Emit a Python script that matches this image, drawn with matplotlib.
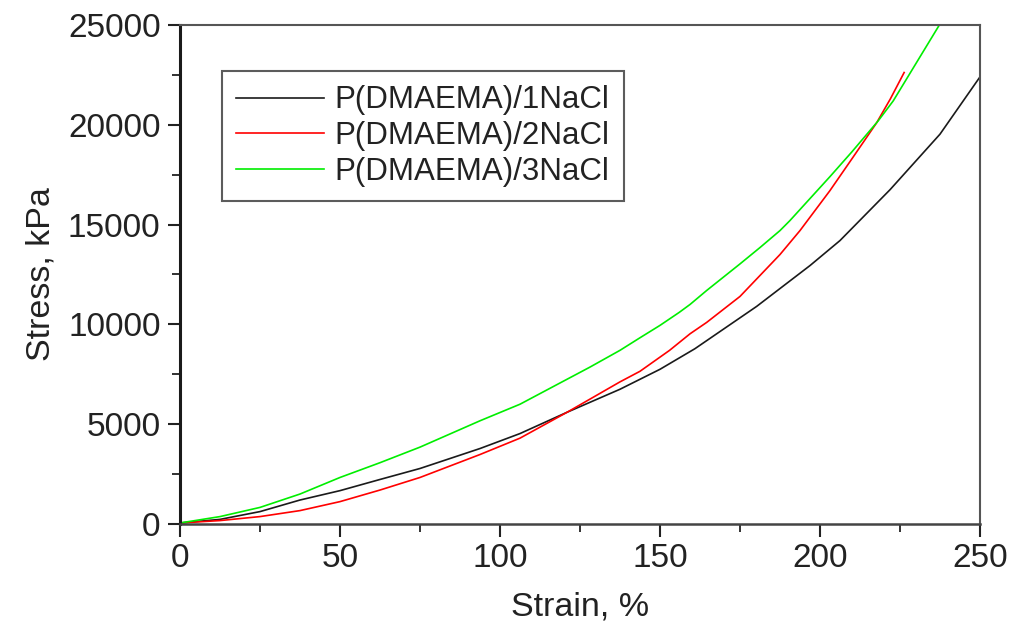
import matplotlib.pyplot as plt

plt.rcParams['font.family'] = ['Liberation Sans', 'DejaVu Sans']

# stress-strain curves, strain in %, stress in kPa
strain_1 = [0, 12.5, 25, 37.5, 50, 62.5, 75, 93.75, 106.25, 121, 137.5, 143.75,
            150, 160.9, 180.2, 196.9, 206.25, 221.9, 237.5, 250]
stress_1 = [50, 230, 620, 1200, 1670, 2230, 2780, 3780, 4530, 5600, 6750, 7250,
            7750, 8780, 10900, 12950, 14200, 16750, 19530, 22400]

strain_2 = [0, 12.5, 25, 37.5, 50, 62.5, 75, 93.75, 106.25, 121, 137.5, 143.75,
            153, 159.4, 164.6, 175, 181.25, 187.5, 193.75, 203.1, 210, 217.7,
            222, 226.3]
stress_2 = [50, 170, 370, 670, 1120, 1700, 2330, 3480, 4300, 5600, 7120, 7650,
            8700, 9530, 10100, 11400, 12450, 13500, 14700, 16700, 18300, 20100,
            21300, 22620]

strain_3 = [0, 12.5, 25, 37.5, 50, 62.5, 75, 93.75, 106.25, 118, 128, 137.5,
            143.75, 150, 156, 159.4, 164.6, 175, 181.25, 187.5, 190.6, 203.1,
            210, 218.2, 222.9, 237.3]
stress_3 = [50, 370, 830, 1500, 2330, 3070, 3850, 5170, 6000, 7000, 7850, 8700,
            9330, 9950, 10600, 11000, 11700, 13030, 13850, 14700, 15200, 17400,
            18650, 20200, 21200, 25000]

labels = ['P(DMAEMA)/1NaCl', 'P(DMAEMA)/2NaCl', 'P(DMAEMA)/3NaCl']
colors = ['#1a1a1a', '#ff0000', '#00ee00']

fig = plt.figure(figsize=(10.13, 6.3), dpi=100)
ax = fig.add_axes([0.1777, 0.1683, 0.7897, 0.792])

for x, y, lab, c in zip([strain_1, strain_2, strain_3],
                        [stress_1, stress_2, stress_3], labels, colors):
    ax.plot(x, y, color=c, lw=1.2, label=lab)

ax.set_xlim(0, 250)
ax.set_ylim(0, 25000)
ax.set_xticks(range(0, 251, 50))
ax.set_xticks(range(25, 251, 50), minor=True)
ax.set_yticks(range(0, 25001, 5000))
ax.set_yticks(range(2500, 25001, 5000), minor=True)

ax.tick_params(which='major', direction='out', length=9, width=1.5,
               labelsize=24, pad=5, colors='#222222')
ax.tick_params(which='minor', direction='out', length=6, width=1.3,
               colors='#222222')

ax.spines['left'].set_linewidth(2.2)
ax.spines['left'].set_color('#1a1a1a')
ax.spines['bottom'].set_linewidth(1.8)
ax.spines['bottom'].set_color('#444444')
for s in ['top', 'right']:
    ax.spines[s].set_linewidth(1.5)
    ax.spines[s].set_color('#555555')

ax.set_xlabel('Strain, %', fontsize=24.5, color='#222222', labelpad=12)
ax.set_ylabel('Stress, kPa', fontsize=24.5, color='#222222', labelpad=8)

leg = ax.legend(loc='upper left', bbox_to_anchor=(0.0525, 0.907), fontsize=22.5,
                frameon=True, fancybox=False, handlelength=2.8,
                handletextpad=0.35, borderpad=0.45, labelspacing=0.18,
                borderaxespad=0)
leg.get_frame().set_edgecolor('#333333')
leg.get_frame().set_linewidth(1.5)
for t in leg.get_texts():
    t.set_color('#222222')

fig.savefig('out.png', dpi=100)
